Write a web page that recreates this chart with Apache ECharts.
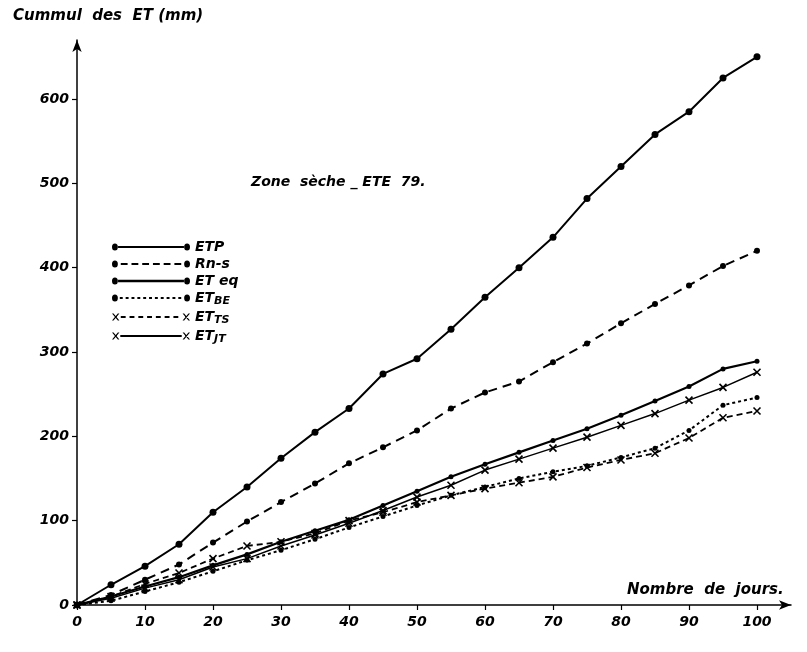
<!DOCTYPE html>
<html>
<head>
<meta charset="utf-8">
<script src="https://cdn.jsdelivr.net/npm/echarts@6/dist/echarts.min.js"></script>
<style>html,body{margin:0;padding:0;background:#fff;}#c{width:807px;height:652px;}</style>
</head>
<body>
<div id="c"></div>
<script>
var days = [0,5,10,15,20,25,30,35,40,45,50,55,60,65,70,75,80,85,90,95,100];
var ETP  = [0,24,46,72,110,140,174,205,233,274,292,327,365,400,436,482,520,558,585,625,650];
var RNS  = [0,12,30,48,74,99,122,144,168,187,207,233,252,265,288,310,334,357,379,402,420];
var ETEQ = [0,10,22,33,47,60,75,88,101,118,135,152,167,181,195,209,225,242,259,280,289];
var ETBE = [0,5,16,27,40,53,65,78,92,105,118,130,140,150,158,165,175,186,207,237,246];
var ETTS = [0,10,25,38,55,70,75,85,100,110,122,130,138,145,152,163,172,180,198,222,230];
var ETJT = [0,8,20,30,45,55,70,83,97,112,128,142,160,173,186,199,213,227,243,258,276];
var xTicks = [0,10,20,30,40,50,60,70,80,90,100];
var yTicks = [0,100,200,300,400,500,600];
var names = ['ETP','Rn-s','ETeq','ETBE','ETTS','ETJT'];

function pairs(v){ return days.map(function(d,i){ return [d, v[i]]; }); }
var FONT = '"DejaVu Sans", sans-serif';
var X = 'path://M0,0L10,10M10,0L0,10';

// legend icon builders (80 x 6 box: y from 2 to 8)
function circ(cx, r){ return 'M' + (cx - r) + ',5A' + r + ',' + r + ' 0 1,0 ' + (cx + r) + ',5A' + r + ',' + r + ' 0 1,0 ' + (cx - r) + ',5Z'; }
function cross(cx){ var s = 3, t = 0.8;
  return 'M' + (cx - s - t) + ',2L' + (cx - s + t) + ',2L' + (cx + s + t) + ',8L' + (cx + s - t) + ',8Z' +
         'M' + (cx + s - t) + ',2L' + (cx + s + t) + ',2L' + (cx - s + t) + ',8L' + (cx - s - t) + ',8Z'; }
function seg(a, b, h){ return 'M' + a + ',' + (5 - h) + 'L' + b + ',' + (5 - h) + 'L' + b + ',' + (5 + h) + 'L' + a + ',' + (5 + h) + 'Z'; }
function dashes(a, b, len, gap, h){ var p = ''; for (var x = a; x < b; x += len + gap) p += seg(x, Math.min(x + len, b), h); return p; }
function icon(ends, body){
  var e = ends === 'o' ? circ(3, 3) + circ(77, 3) : cross(3.8) + cross(76.2);
  return 'path://' + e + body;
}
var icons = {
  'ETP': icon('o', seg(6.2, 73.8, 0.9)),
  'Rn-s': icon('o', dashes(9, 72, 7, 4, 0.8)),
  'ETeq': icon('o', seg(6.2, 73.8, 1.1)),
  'ETBE': icon('o', dashes(8, 73, 3, 3, 0.9)),
  'ETTS': icon('x', dashes(9, 72, 5, 4, 0.8)),
  'ETJT': icon('x', seg(8.5, 71.5, 0.8))
};

function ser(name, vals, type, symbol, size, width){
  var isX = symbol === X;
  return {
    name: name, type: 'line', data: pairs(vals),
    symbol: symbol, symbolSize: size, showSymbol: true,
    lineStyle: {color: '#000', width: width, type: type},
    itemStyle: isX ? {color: '#000', borderColor: '#000', borderWidth: 1.6} : {color: '#000', borderColor: '#000', borderWidth: 0},
    emphasis: {disabled: true},
    animation: false, z: 3
  };
}

var txt = {fontFamily: FONT, fontStyle: 'italic', fontWeight: 'bold', color: '#000'};
var chart = echarts.init(document.getElementById('c'));
chart.setOption({
  backgroundColor: '#fff',
  animation: false,
  title: [
    {text: 'Cummul  des  ET (mm)', left: 8, top: 4, textStyle: Object.assign({fontSize: 15}, txt)},
    {text: 'Zone  sèche _ ETE  79.', left: 246, top: 170, textStyle: Object.assign({fontSize: 14}, txt)},
    {text: 'Nombre  de  jours.', left: 622, top: 578, textStyle: Object.assign({fontSize: 15}, txt)}
  ],
  legend: {
    orient: 'vertical', left: 107, top: 235, itemGap: 3,
    itemWidth: 78, itemHeight: 7, symbolKeepAspect: false,
    data: names.map(function(n){ return {name: n, icon: icons[n]}; }),
    itemStyle: {color: '#000', borderWidth: 0},
    selectedMode: false,
    textStyle: {fontFamily: FONT, fontStyle: 'italic', fontSize: 14, color: '#000',
      rich: {m: Object.assign({fontSize: 14}, txt),
             s: Object.assign({fontSize: 11, padding: [7,0,0,0]}, txt)}},
    formatter: function(n){
      if (n === 'ETP') return '{m|ETP}';
      if (n === 'Rn-s') return '{m|Rn-s}';
      if (n === 'ETeq') return '{m|ET eq}';
      return '{m|ET}{s|' + n.slice(2) + '}';
    }
  },
  grid: {left: 77, right: 16, top: 40, bottom: 47, containLabel: false},
  xAxis: {
    type: 'value', min: 0, max: 105,
    axisLine: {show: true, lineStyle: {color: '#000', width: 1.5}, symbol: ['none','arrow'], symbolSize: [7,12]},
    axisTick: {show: true, length: 5, lineStyle: {color: '#000', width: 1.2}, customValues: xTicks},
    axisLabel: Object.assign({customValues: xTicks, fontSize: 14, margin: 10}, txt),
    splitLine: {show: false}
  },
  yAxis: {
    type: 'value', min: 0, max: 670,
    axisLine: {show: true, lineStyle: {color: '#000', width: 1.5}, symbol: ['none','arrow'], symbolSize: [7,12]},
    axisTick: {show: true, length: 5, lineStyle: {color: '#000', width: 1.2}, customValues: yTicks},
    axisLabel: Object.assign({customValues: yTicks, fontSize: 14, margin: 8}, txt),
    splitLine: {show: false}
  },
  series: [
    ser('ETP', ETP, 'solid', 'circle', 7, 2),
    ser('Rn-s', RNS, [9,6], 'circle', 6, 2),
    ser('ETeq', ETEQ, 'solid', 'circle', 5, 2.2),
    ser('ETBE', ETBE, [3,3], 'circle', 5, 2),
    ser('ETTS', ETTS, [6,4], X, 7, 1.8),
    ser('ETJT', ETJT, 'solid', X, 7, 1.5)
  ]
});
</script>
</body>
</html>
